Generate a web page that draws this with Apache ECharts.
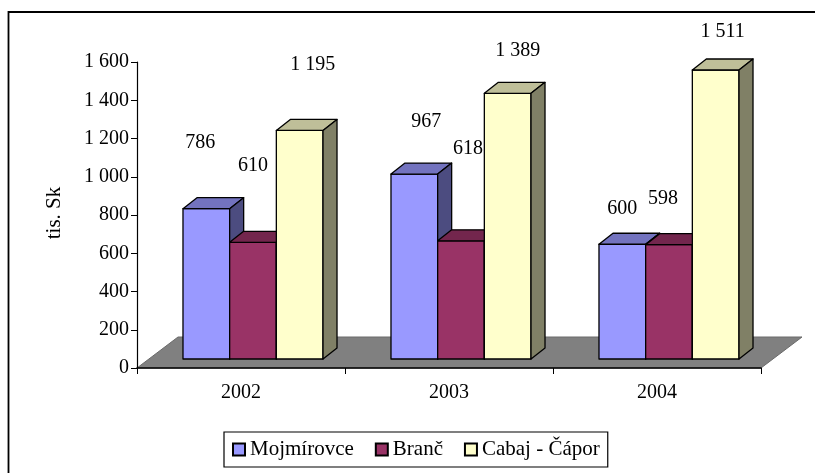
<!DOCTYPE html>
<html>
<head>
<meta charset="utf-8">
<script src="https://cdn.jsdelivr.net/npm/echarts@6/dist/echarts.min.js"></script>
<style>
  html, body { margin: 0; padding: 0; background: #fff; }
  #chart { width: 815px; height: 473px; }
</style>
</head>
<body>
<div id="chart"></div>
<script>
// Yearly amounts (tis. Sk) for three municipalities
const years = ['2002', '2003', '2004'];
const seriesNames = ['Mojmírovce', 'Branč', 'Cabaj - Čápor'];
const mojmirovce = [786, 967, 600];
const branc = [610, 618, 598];
const cabajCapor = [1195, 1389, 1511];
const yTicks = { min: 0, max: 1600, interval: 200 };

// Face colours: front, top, side
const palette = [
  { front: '#9999FF', top: '#7373BF', side: '#4C4C80' },
  { front: '#993366', top: '#73264D', side: '#4D1A33' },
  { front: '#FFFFCC', top: '#BFBF99', side: '#808066' }
];

// Data-label nudges (px) relative to the top-front centre of each bar
const labelShift = [
  [[-6, -66], [12, -52], [0, -36]],
  [[0, -77], [7, -92], [-6, -46]],
  [[13, -66], [10, -43], [7, -38]]
];

// Pseudo-3D projection constants (px)
const FLOOR_DX = 41, FLOOR_DY = -31;   // floor depth
const FRONT_DX = 12, FRONT_DY = -9;    // bar front plane set back from axis
const BAR_DX = 14, BAR_DY = -11;       // bar depth
const BAR_FRAC = 0.2244;               // bar width as fraction of category band

const FONT = '"Liberation Serif", "Times New Roman", serif';

function fmt(v) {
  return String(v).replace(/\B(?=(\d{3})+(?!\d))/g, ' ');
}

function barRenderer(s) {
  return function (params, api) {
    const i = api.value(0);
    const v = api.value(1);
    const band = api.size([1, 0])[0];
    const base = api.coord([i, 0]);
    const topPt = api.coord([i, v]);
    const w = band * BAR_FRAC;
    const x0 = base[0] - 1.5 * w + FRONT_DX + s * w;
    const x1 = x0 + w;
    const yb = base[1] + FRONT_DY;
    const yt = topPt[1] + FRONT_DY;
    const c = palette[s];
    const stroke = { stroke: '#000', lineWidth: 1.3, lineJoin: 'round' };
    const off = labelShift[s][i];
    return {
      type: 'group',
      children: [
        { type: 'rect', shape: { x: x0, y: yt, width: w, height: yb - yt },
          style: Object.assign({ fill: c.front }, stroke) },
        { type: 'polygon', shape: { points: [[x0, yt], [x1, yt], [x1 + BAR_DX, yt + BAR_DY], [x0 + BAR_DX, yt + BAR_DY]] },
          style: Object.assign({ fill: c.top }, stroke) },
        { type: 'polygon', shape: { points: [[x1, yt], [x1 + BAR_DX, yt + BAR_DY], [x1 + BAR_DX, yb + BAR_DY], [x1, yb]] },
          style: Object.assign({ fill: c.side }, stroke) },
        { type: 'text', z2: 10,
          style: { text: fmt(v), x: (x0 + x1) / 2 + off[0], y: yt + off[1],
                   align: 'center', verticalAlign: 'middle',
                   font: '20px ' + FONT, fill: '#000' } }
      ]
    };
  };
}

function floorRenderer(params, api) {
  const cs = params.coordSys;
  const y0 = api.coord([0, 0])[1];
  const xl = cs.x, xr = cs.x + cs.width;
  return {
    type: 'polygon',
    shape: { points: [[xl, y0], [xr, y0], [xr + FLOOR_DX, y0 + FLOOR_DY], [xl + FLOOR_DX, y0 + FLOOR_DY]] },
    style: { fill: '#808080', stroke: '#6a6a6a', lineWidth: 1 }
  };
}

const valueSets = [mojmirovce, branc, cabajCapor];

const chart = echarts.init(document.getElementById('chart'), null, { renderer: 'canvas' });
chart.setOption({
  animation: false,
  backgroundColor: '#fff',
  textStyle: { fontFamily: FONT },
  grid: { left: 137, right: 54, top: 62, bottom: 105 },
  xAxis: {
    type: 'category',
    data: years,
    z: 5,
    axisLine: { lineStyle: { color: '#000', width: 1.6 } },
    axisTick: { show: true, length: 6, alignWithLabel: false, lineStyle: { color: '#000' } },
    axisLabel: { color: '#000', fontSize: 20, fontFamily: FONT, margin: 15 }
  },
  yAxis: {
    type: 'value',
    min: yTicks.min, max: yTicks.max, interval: yTicks.interval,
    z: 5,
    axisLine: { show: true, lineStyle: { color: '#000', width: 1.2 } },
    axisTick: { show: true, length: 6, lineStyle: { color: '#000' } },
    splitLine: { show: false },
    axisLabel: { color: '#000', fontSize: 20, fontFamily: FONT, margin: 8, formatter: fmt }
  },
  legend: {
    data: seriesNames,
    left: 224, top: 432,
    orient: 'horizontal',
    itemWidth: 12, itemHeight: 12, itemGap: 21,
    padding: [7, 8, 7, 8],
    borderColor: '#000', borderWidth: 1.2,
    icon: 'rect',
    textStyle: { color: '#000', fontSize: 21, fontFamily: FONT, padding: [0, 0, 0, 0] }
  },
  graphic: [
    { type: 'rect', z: 0, shape: { x: 8.5, y: 12, width: 900, height: 600 },
      style: { fill: 'none', stroke: '#000', lineWidth: 1.8 } },
    { type: 'text', x: 54, y: 213, rotation: Math.PI / 2,
      style: { text: 'tis. Sk', font: '21px ' + FONT, fill: '#000', align: 'center', verticalAlign: 'middle' } }
  ],
  series: [
    { type: 'custom', name: 'floor', z: 1, silent: true, renderItem: floorRenderer,
      data: [[0, 0]] }
  ].concat(valueSets.map(function (vals, s) {
    return {
      type: 'custom',
      name: seriesNames[s],
      z: 2 + s,
      itemStyle: { color: palette[s].front, borderColor: '#000', borderWidth: 1 },
      renderItem: barRenderer(s),
      data: vals.map(function (v, i) { return [i, v]; })
    };
  }))
});
</script>
</body>
</html>
